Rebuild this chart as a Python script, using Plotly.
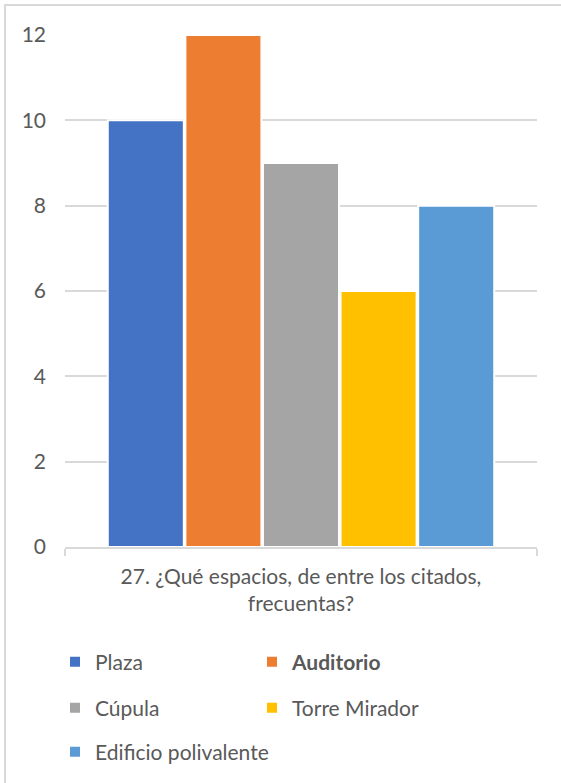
import plotly.graph_objects as go

# Survey question (single category) and the five answer options
category = "27. ¿Qué espacios, de entre los citados,<br>frecuentas?"
series_names = ["Plaza", "<b>Auditorio</b>", "Cúpula", "Torre Mirador", "Edificio polivalente"]
series_values = [10, 12, 9, 6, 8]
series_colors = ["#4472C4", "#ED7D31", "#A5A5A5", "#FFC000", "#5B9BD5"]
legend_ids = ["legend", "legend", "legend2", "legend2", "legend3"]
y_ticks = [0, 2, 4, 6, 8, 10, 12]

W, H = 561, 783
ML, MR, MT, MB = 65, 24, 35, 235
PW, PH = W - ML - MR, H - MT - MB

TEXT = "#595959"
GRID = "#D9D9D9"
FONT = "Lato, 'Open Sans', sans-serif"


def px_x(p):
    return (p - ML) / PW


def px_y(p):
    return (H - MB - p) / PH


fig = go.Figure()
for name, val, col, lg in zip(series_names, series_values, series_colors, legend_ids):
    fig.add_trace(go.Bar(
        x=[category], y=[val], name=name, legend=lg,
        marker=dict(color=col, line=dict(color="white", width=2)),
    ))

legend_common = dict(
    orientation="h", xanchor="left", yanchor="middle",
    entrywidthmode="pixels",
    font=dict(family=FONT, size=21, color=TEXT),
    bgcolor="rgba(0,0,0,0)", itemclick=False,
)

fig.update_layout(
    width=W, height=H,
    margin=dict(l=ML, r=MR, t=MT, b=MB),
    paper_bgcolor="white", plot_bgcolor="white",
    font=dict(family=FONT, size=21, color=TEXT),
    barmode="group", bargap=0.178, bargroupgap=0.02,
    legend=dict(x=px_x(55), y=px_y(662), entrywidth=152, **legend_common),
    legend2=dict(x=px_x(55), y=px_y(708), entrywidth=152, **legend_common),
    legend3=dict(x=px_x(55), y=px_y(752), entrywidth=300, **legend_common),
    xaxis=dict(
        showline=True, linecolor=GRID, linewidth=1.5,
        ticks="outside", tickson="boundaries", ticklen=7, tickcolor=GRID, tickwidth=1.5,
        ticklabelstandoff=10,
        showgrid=False, tickfont=dict(family=FONT, size=21, color=TEXT),
    ),
    yaxis=dict(
        range=[0, 12], tickvals=y_ticks, showgrid=True, gridcolor=GRID, gridwidth=1.5,
        zeroline=False, showline=False, ticks="", ticklabelstandoff=18,
        tickfont=dict(family=FONT, size=21, color=TEXT),
    ),
    shapes=[dict(
        type="rect", xref="paper", yref="paper",
        x0=px_x(5), x1=px_x(570), y0=px_y(795), y1=px_y(5),
        line=dict(color=GRID, width=2), fillcolor="rgba(0,0,0,0)", layer="below",
    )],
)

fig.write_html("out.html")
